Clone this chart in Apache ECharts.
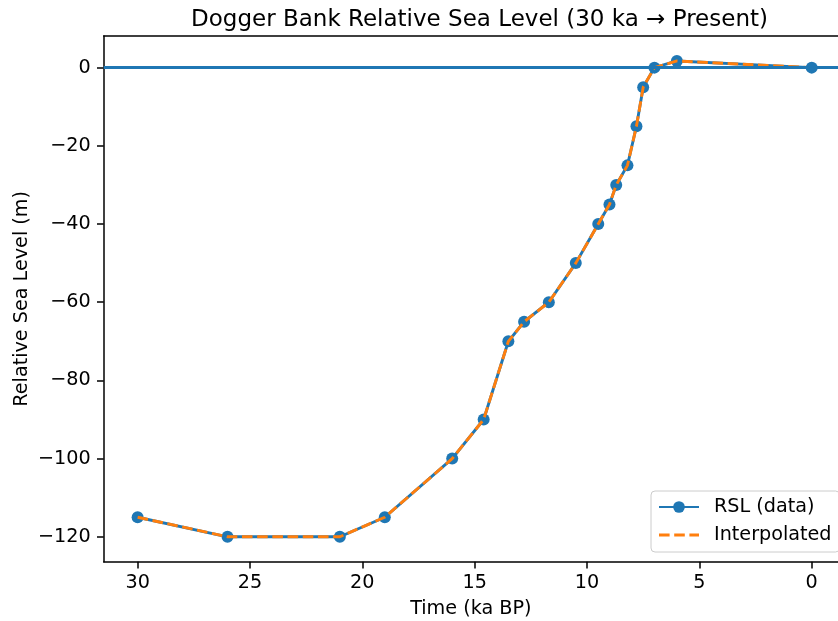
<!DOCTYPE html>
<html>
<head>
<meta charset="utf-8">
<script src="https://cdn.jsdelivr.net/npm/echarts@6/dist/echarts.min.js"></script>
<style>
html,body{margin:0;padding:0;background:#fff;}
#chart{width:838px;height:621px;}
</style>
</head>
<body>
<div id="chart"></div>
<script>
// Data
var timeKa = [30, 26, 21, 19, 16, 14.6, 13.5, 12.8, 11.7, 10.5, 9.5, 9.0, 8.7, 8.2, 7.8, 7.5, 7.0, 6.0, 0];
var rslMetres = [-115, -120, -120, -115, -100, -90, -70, -65, -60, -50, -40, -35, -30, -25, -15, -5, 0, 1.7, 0];
var xTicks = [0, 5, 10, 15, 20, 25, 30];
var yTicks = [-120, -100, -80, -60, -40, -20, 0];
var seriesNames = ['RSL (data)', 'Interpolated'];
var titleText = 'Dogger Bank Relative Sea Level (30 ka \u2192 Present)';
var xName = 'Time (ka BP)';
var yName = 'Relative Sea Level (m)';

var pts = timeKa.map(function (t, i) { return [t, rslMetres[i]]; });
var FONT = 'DejaVu Sans';
var LABEL_SIZE = 19.2;
var fmt = function (v) { return String(v).replace('-', '\u2212'); };
var X_MIN = -1.17, X_MAX = 31.51;

var chart = echarts.init(document.getElementById('chart'), null, {renderer: 'canvas'});
chart.setOption({
  animation: false,
  backgroundColor: '#ffffff',
  title: {
    text: titleText,
    left: 474.5, textAlign: 'center',
    top: 4,
    textStyle: {fontFamily: FONT, fontSize: 23, fontWeight: 'normal', color: '#000'}
  },
  grid: {
    left: 103.7, right: 0, top: 36, bottom: 59.3,
    show: false,
    containLabel: false,
    outerBoundsMode: 'none'
  },
  legend: {
    orient: 'vertical',
    left: 651, top: 491,
    padding: [5, 8, 6, 7],
    itemWidth: 40, itemHeight: 14.6, itemGap: 6,
    backgroundColor: 'rgba(255,255,255,0.8)',
    borderColor: '#cccccc', borderWidth: 1, borderRadius: 4,
    textStyle: {fontFamily: FONT, fontSize: LABEL_SIZE, color: '#000', lineHeight: 22, padding: [0, 0, 0, 10]},
    data: [
      {name: seriesNames[0]},
      {name: seriesNames[1], icon: 'path://M0,0h10.6v2.9h-10.6z M15.2,0h10.6v2.9h-10.6z M30.4,0h9.6v2.9h-9.6z', itemStyle: {color: '#ff7f0e'}}
    ]
  },
  xAxis: [{
    type: 'value',
    inverse: true,
    min: X_MIN, max: X_MAX,
    name: xName, nameLocation: 'middle', nameGap: 38,
    nameTextStyle: {fontFamily: FONT, fontSize: LABEL_SIZE, color: '#000'},
    axisLine: {show: true, onZero: false, lineStyle: {color: '#000', width: 1.5}},
    axisTick: {show: true, inside: false, length: 6.7, lineStyle: {color: '#000', width: 1.5}, customValues: xTicks},
    axisLabel: {show: true, margin: 12, fontFamily: FONT, fontSize: LABEL_SIZE, color: '#000', customValues: xTicks, formatter: fmt},
    splitLine: {show: false}
  }, {
    type: 'value',
    position: 'top',
    inverse: true,
    min: X_MIN, max: X_MAX,
    axisLine: {show: true, onZero: false, lineStyle: {color: '#000', width: 1.5}},
    axisTick: {show: false},
    axisLabel: {show: false},
    splitLine: {show: false}
  }],
  yAxis: {
    type: 'value',
    min: -126.37, max: 8.09,
    name: yName, nameLocation: 'middle', nameGap: 72, nameRotate: 90,
    nameMoveOverlap: false,
    nameTextStyle: {fontFamily: FONT, fontSize: LABEL_SIZE, color: '#000'},
    axisLine: {show: true, onZero: false, lineStyle: {color: '#000', width: 1.5}},
    axisTick: {show: true, inside: false, length: 6.7, lineStyle: {color: '#000', width: 1.5}, customValues: yTicks},
    axisLabel: {show: true, margin: 13, fontFamily: FONT, fontSize: LABEL_SIZE, color: '#000', customValues: yTicks, formatter: fmt},
    splitLine: {show: false}
  },
  series: [
    {
      name: seriesNames[0],
      type: 'line',
      data: pts,
      z: 2,
      symbol: 'circle', symbolSize: 12, showSymbol: true,
      itemStyle: {color: '#1f77b4'},
      lineStyle: {color: '#1f77b4', width: 2.9},
      markLine: {
        silent: true, symbol: ['none', 'none'], label: {show: false},
        lineStyle: {color: '#1f77b4', width: 2.9, type: 'solid'},
        emphasis: {disabled: true},
        data: [{yAxis: 0}]
      }
    },
    {
      name: seriesNames[1],
      type: 'line',
      data: pts,
      z: 3,
      symbol: 'none', showSymbol: false,
      itemStyle: {color: '#ff7f0e'},
      lineStyle: {color: '#ff7f0e', width: 2.9, type: [10.6, 4.6]}
    }
  ]
});
</script>
</body>
</html>
